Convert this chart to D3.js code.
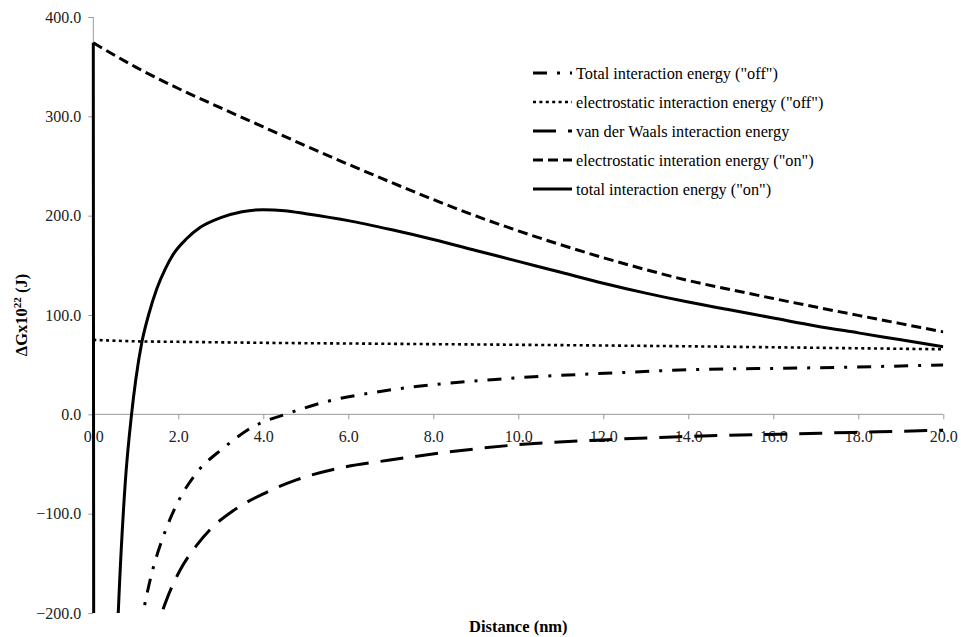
<!DOCTYPE html>
<html>
<head>
<meta charset="utf-8">
<script src="https://cdn.jsdelivr.net/npm/d3@7"></script>
<style>
    body { margin: 0; background: #fff; }
    text { font-family: "Liberation Serif", "Times New Roman", serif; }
</style>
</head>
<body>
<svg id="chart"></svg>
<script>
// x ticks / y ticks
let xTicks = [0, 2, 4, 6, 8, 10, 12, 14, 16, 18, 20];
let yTicks = [-200, -100, 0, 100, 200, 300, 400];

// series as [distance, energy]
let totalOff = [[1.1, -216], [1.18, -198], [1.37, -161], [1.63, -125], [1.96, -91], [2.43, -59],
    [3.06, -34], [3.76, -12.5], [4.59, 1], [5.41, 12], [6.75, 23], [9.73, 36], [12.4, 42],
    [13.8, 44.6], [16.9, 46.8], [20, 49.6]];
let esOff = [[0, 75], [1, 73.5], [2, 73], [4, 72], [7, 71], [10, 70], [14, 68.5], [17, 67], [20, 65.5]];
let vdw = [[1.4, -230], [1.61, -200], [1.73, -186], [2.04, -157], [2.43, -132], [2.82, -113],
    [3.29, -97], [4, -80], [4.78, -66], [5.8, -54], [6.98, -46], [8.16, -39], [9.88, -31],
    [11.84, -26], [13.8, -22.5], [17.1, -19], [20, -16]];
let esOn = [[0, 374], [1, 349.5], [2, 328], [3, 308.5], [4, 289.3], [5, 270.3], [6, 251.7],
    [7, 233.7], [8, 216.2], [9, 199.7], [10, 184.7], [11, 170.7], [12, 157.7], [13, 145.7],
    [14, 134.7], [15, 125.5], [16, 116.6], [17, 108], [18, 99.6], [19, 91.3], [20, 83]];
let totalOn = [[0, 374], [0.1, -4000], [0.5, -300], [0.59, -197], [0.75, -70], [0.9, 0],
    [1, 35], [1.14, 72], [1.3, 100], [1.49, 126], [1.7, 147], [1.88, 161], [2.2, 177],
    [2.51, 188], [3, 198], [3.5, 204], [4, 206], [4.5, 205], [5, 202], [6, 195], [7, 186],
    [8, 176], [9, 165], [10, 154], [11, 143], [12, 132], [13, 122], [14, 113], [15, 105],
    [16, 97], [17, 89], [18, 82], [19, 75], [20, 68]];

let seriesNames = [
    'Total interaction energy ("off")',
    'electrostatic interaction energy ("off")',
    'van der Waals interaction energy',
    'electrostatic interation energy ("on")',
    'total interaction energy ("on")'
];
let seriesData = [totalOff, esOff, vdw, esOn, totalOn];
let seriesDash = ["14,10,3,10", "3,3.4", "23,12", "10,5", null];

let W = 961, H = 637;
let margin = {top: 17, right: 17.7, bottom: 24, left: 93.3},
    width = W - margin.left - margin.right,
    height = H - margin.top - margin.bottom;

let svg = d3.select("#chart")
    .attr("width", W)
    .attr("height", H);

let g = svg.append("g")
    .attr("transform", "translate(" + margin.left + "," + margin.top + ")");

let x = d3.scaleLinear().domain([0, 20]).range([0, width]);
let y = d3.scaleLinear().domain([-200, 400]).range([height, 0]);

let fmt = d3.format(".1f");

// y axis
let yAxis = g.append("g")
    .call(d3.axisLeft(y).tickValues(yTicks).tickFormat(fmt).tickSize(5).tickPadding(7));
yAxis.select(".domain").attr("stroke", "#999").attr("d", "M0," + y(400) + "V" + y(-200));
yAxis.selectAll(".tick line").attr("stroke", "#999");
yAxis.selectAll("text").attr("font-size", 16).attr("fill", "#222");

// x axis at zero
let xAxis = g.append("g")
    .attr("transform", "translate(0," + y(0) + ")")
    .call(d3.axisBottom(x).tickValues(xTicks).tickFormat(fmt).tickSize(5).tickPadding(11));
xAxis.select(".domain").attr("stroke", "#999").attr("d", "M0,0H" + width);
xAxis.selectAll(".tick line").attr("stroke", "#999");
xAxis.selectAll("text").attr("font-size", 16).attr("fill", "#222");

// clip to plot area
g.append("clipPath").attr("id", "plotClip")
    .append("rect")
    .attr("x", -3).attr("y", 0)
    .attr("width", width + 3).attr("height", height);

let line = d3.line()
    .x(function (d) { return x(d[0]); })
    .y(function (d) { return y(d[1]); })
    .curve(d3.curveMonotoneX);

let lines = g.append("g").attr("clip-path", "url(#plotClip)");
for (let i = 0; i < seriesData.length; i++) {
    lines.append("path")
        .datum(seriesData[i])
        .attr("d", line)
        .attr("fill", "none")
        .attr("stroke", "#000")
        .attr("stroke-width", i === 1 ? 2.6 : 3)
        .attr("stroke-dasharray", seriesDash[i]);
}

// legend
let legend = svg.append("g").attr("transform", "translate(533,73)");
for (let i = 0; i < seriesNames.length; i++) {
    let row = legend.append("g").attr("transform", "translate(0," + (i * 29) + ")");
    row.append("line")
        .attr("x1", 0).attr("x2", 39)
        .attr("y1", 0).attr("y2", 0)
        .attr("stroke", "#000")
        .attr("stroke-width", i === 1 ? 2.6 : 3)
        .attr("stroke-dasharray", seriesDash[i]);
    row.append("text")
        .attr("x", 43).attr("y", 5.5)
        .attr("font-size", 16.3)
        .attr("fill", "#000")
        .text(seriesNames[i]);
}

// axis titles
let yTitle = svg.append("text")
    .attr("transform", "translate(27," + (margin.top + height / 2) + ") rotate(-90)")
    .attr("text-anchor", "middle")
    .attr("font-size", 16.5)
    .attr("font-weight", "bold");
yTitle.append("tspan").text("\u0394Gx10");
yTitle.append("tspan").attr("font-size", 11).attr("dy", -6).text("22");
yTitle.append("tspan").attr("dy", 6).text(" (J)");

svg.append("text")
    .attr("x", margin.left + width / 2)
    .attr("y", 632)
    .attr("text-anchor", "middle")
    .attr("font-size", 16.5)
    .attr("font-weight", "bold")
    .text("Distance (nm)");
</script>
</body>
</html>
